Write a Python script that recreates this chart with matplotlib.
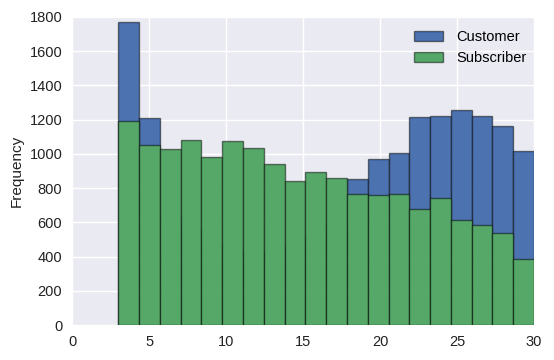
import numpy as np
import matplotlib
matplotlib.use("Agg")
import matplotlib.pyplot as plt

# 20 bins from 3 to 30
bin_edges = np.linspace(3, 30, 21)
customer = [1772, 1210, 640, 560, 480, 430, 420, 440, 470, 520, 590, 853,
            970, 1005, 1216, 1223, 1257, 1221, 1163, 1017]
subscriber = [1194, 1050, 1029, 1079, 984, 1074, 1034, 941, 842, 894, 857, 766,
              758, 766, 676, 740, 612, 583, 540, 386]
labels = ["Customer", "Subscriber"]
colors = ["#4C72B0", "#55A868"]

plt.rcParams['font.family'] = ['Liberation Sans', 'DejaVu Sans']

fig = plt.figure(figsize=(5.54, 3.6), dpi=100)
ax = fig.add_axes([0.13, 0.097, 0.834, 0.856])
ax.set_facecolor("#EAEAF2")
ax.grid(True, color="white", linewidth=1.0)
ax.set_axisbelow(True)
for s in ax.spines.values():
    s.set_visible(False)

widths = np.diff(bin_edges)
for vals, lab, col in zip([customer, subscriber], labels, colors):
    ax.bar(bin_edges[:-1], vals, width=widths, align="edge", color=col,
           edgecolor=(0, 0, 0, 0.5), linewidth=1.0, label=lab)

ax.set_xlim(0, 30)
ax.set_ylim(0, 1800)
ax.set_xticks(np.arange(0, 31, 5))
ax.set_yticks(np.arange(0, 1801, 200))
ax.tick_params(length=0, labelsize=10.5, pad=7, colors="#222222")
ax.set_ylabel("Frequency", fontsize=11, color="#222222")

leg = ax.legend(loc="upper right", frameon=False, fontsize=10.5,
                bbox_to_anchor=(1.012, 1.0), handletextpad=0.9)

fig.savefig("out.png", dpi=100)
